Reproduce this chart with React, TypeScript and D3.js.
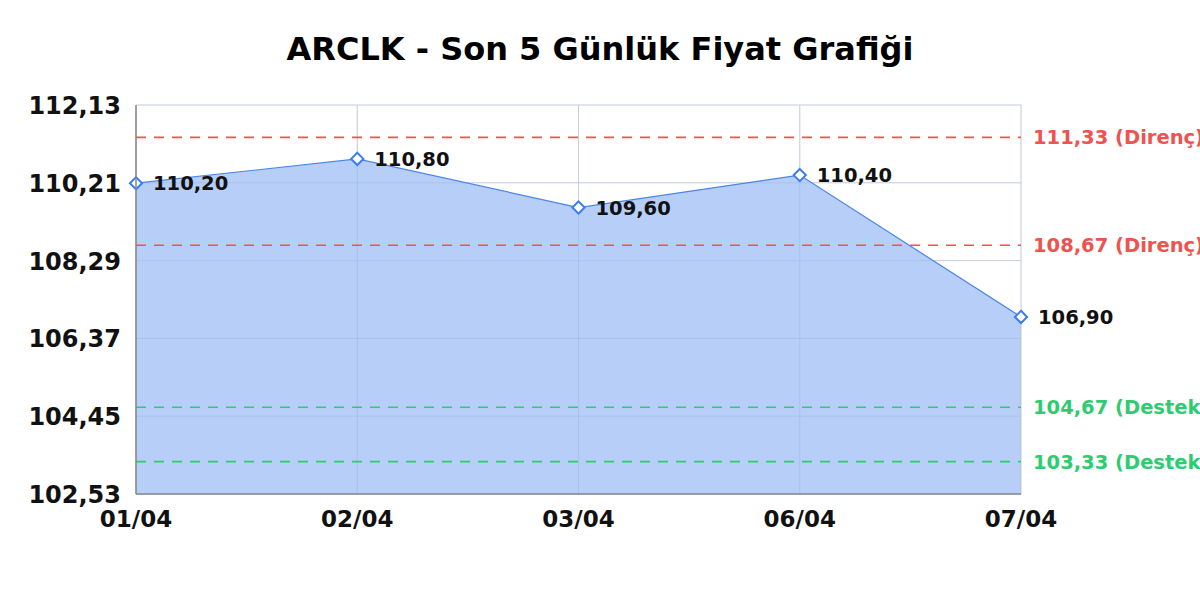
import React from "react";
import * as d3 from "d3";

const title = "ARCLK - Son 5 Günlük Fiyat Grafiği";
const dates = ["01/04", "02/04", "03/04", "06/04", "07/04"];
const prices = [110.2, 110.8, 109.6, 110.4, 106.9];
const yTicks = [102.53, 104.45, 106.37, 108.29, 110.21, 112.13];
const resistance = [111.33, 108.67];
const support = [104.67, 103.33];

const W = 1200;
const H = 600;
const M = { left: 136, right: 1021, top: 105, bottom: 494 };

const fmt = (v: number) => v.toFixed(2).replace(".", ",");

export default function App() {
  const x = d3.scalePoint<string>().domain(dates).range([M.left, M.right]);
  const y = d3.scaleLinear().domain([yTicks[0], yTicks[yTicks.length - 1]]).range([M.bottom, M.top]);
  const pts = dates.map((d, i) => ({ d, v: prices[i] }));
  const area = d3
    .area<{ d: string; v: number }>()
    .x((p) => x(p.d)!)
    .y0(M.bottom)
    .y1((p) => y(p.v));
  const line = d3
    .line<{ d: string; v: number }>()
    .x((p) => x(p.d)!)
    .y((p) => y(p.v));
  const diamond = d3.symbol().type(d3.symbolDiamond2).size(95)()!;
  const font = "'DejaVu Sans', sans-serif";
  const red = "#ef5350";
  const green = "#2ecc71";

  return (
    <svg width={W} height={H} style={{ display: "block", position: "absolute", left: 0, top: 0 }} fontFamily={font}>
      <rect width={W} height={H} fill="#ffffff" />
      <text x={600} y={60} textAnchor="middle" fontSize={32} fontWeight="bold" fill="#000">
        {title}
      </text>
      {/* grid */}
      {yTicks.map((t) => (
        <line key={"gy" + t} x1={M.left} x2={M.right} y1={y(t)} y2={y(t)} stroke="#dcdcdc" strokeWidth={1} />
      ))}
      {dates.map((d) => (
        <line key={"gx" + d} x1={x(d)} x2={x(d)} y1={M.top} y2={M.bottom} stroke="#dcdcdc" strokeWidth={1} />
      ))}
      <path d={area(pts)!} fill="#a9c6f7" fillOpacity={0.85} />
      {yTicks.map((t) => (
        <line key={"gy2" + t} x1={M.left} x2={M.right} y1={y(t)} y2={y(t)} stroke="#9fb6dd" strokeOpacity={0.35} strokeWidth={1} />
      ))}
      {dates.map((d) => (
        <line key={"gx2" + d} x1={x(d)} x2={x(d)} y1={M.top} y2={M.bottom} stroke="#9fb6dd" strokeOpacity={0.35} strokeWidth={1} />
      ))}
      {resistance.map((r) => (
        <g key={"r" + r}>
          <line x1={M.left} x2={M.right} y1={y(r)} y2={y(r)} stroke={red} strokeWidth={1.6} strokeDasharray="10,8" />
          <text x={1033} y={y(r) + 7} fontSize={19.5} fontWeight="bold" fill={red}>
            {fmt(r)} (Direnç)
          </text>
        </g>
      ))}
      {support.map((s) => (
        <g key={"s" + s}>
          <line x1={M.left} x2={M.right} y1={y(s)} y2={y(s)} stroke={green} strokeWidth={1.6} strokeDasharray="10,8" />
          <text x={1033} y={y(s) + 7} fontSize={19.5} fontWeight="bold" fill={green}>
            {fmt(s)} (Destek)
          </text>
        </g>
      ))}
      <path d={line(pts)!} fill="none" stroke="#4a86e8" strokeWidth={1.2} />
      {pts.map((p) => (
        <g key={"m" + p.d}>
          <path d={diamond} transform={`translate(${x(p.d)},${y(p.v)})`} fill="#ffffff" stroke="#3b7cf0" strokeWidth={2} />
          <text x={x(p.d)! + 17} y={y(p.v) + 7} fontSize={19.5} fontWeight="bold" fill="#111">
            {fmt(p.v)}
          </text>
        </g>
      ))}
      {/* axes */}
      <line x1={M.left} x2={M.left} y1={M.top} y2={M.bottom} stroke="#888" strokeWidth={1.5} />
      <line x1={M.left} x2={M.right} y1={M.bottom} y2={M.bottom} stroke="#888" strokeWidth={1.5} />
      {yTicks.map((t) => (
        <text key={"yl" + t} x={121} y={y(t) + 9} textAnchor="end" fontSize={24} fontWeight="bold" fill="#111">
          {fmt(t)}
        </text>
      ))}
      {dates.map((d) => (
        <text key={"xl" + d} x={x(d)} y={527} textAnchor="middle" fontSize={23} fontWeight="bold" fill="#111">
          {d}
        </text>
      ))}
    </svg>
  );
}
